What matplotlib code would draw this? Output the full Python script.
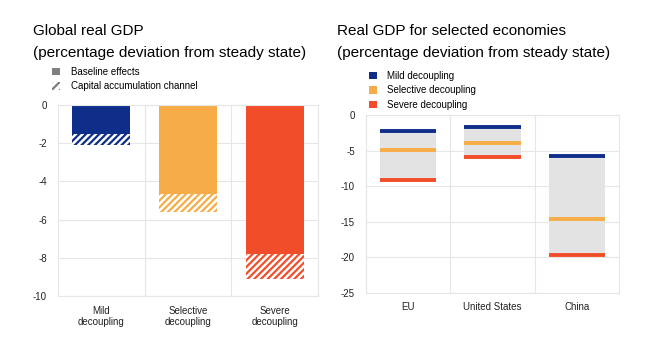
import matplotlib
matplotlib.use("Agg")
import matplotlib.pyplot as plt
from matplotlib.patches import Patch
import numpy as np

plt.rcParams['font.family'] = ['Liberation Sans', 'DejaVu Sans']
plt.rcParams['hatch.linewidth'] = 1.6
plt.rcParams['axes.unicode_minus'] = False

# global real GDP: baseline effect and total incl. capital accumulation
scenarios = ["Mild\ndecoupling", "Selective\ndecoupling", "Severe\ndecoupling"]
baseline = [-1.5, -4.65, -7.8]
total = [-2.1, -5.6, -9.1]

# real GDP by economy under each scenario
economies = ["EU", "United States", "China"]
mild = [-2.2, -1.7, -5.8]
selective = [-4.9, -3.9, -14.6]
severe = [-9.2, -5.9, -19.7]

colors = ["#0e2e8a", "#f7ad47", "#f24d2a"]
grid_col = "#e6e6e6"
W, H = 652, 342

fig = plt.figure(figsize=(W / 100, H / 100), dpi=100)


def style(ax):
    for s in ax.spines.values():
        s.set_color(grid_col)
        s.set_linewidth(0.8)
    ax.tick_params(length=0, labelsize=7, colors="#222222")
    ax.yaxis.grid(True, color=grid_col, lw=0.8)
    ax.set_axisbelow(True)


# left panel
ax1 = fig.add_axes([58 / W, (H - 296) / H, 260 / W, 191 / H])
x = np.arange(len(scenarios))
for i in x:
    ax1.bar(i, total[i], width=0.67, color="white", edgecolor=colors[i],
            hatch="/////", lw=0)
    ax1.bar(i, baseline[i], width=0.67, color=colors[i], lw=0)
ax1.set_xlim(-0.5, 2.5)
ax1.set_ylim(-10, 0)
ax1.set_yticks(np.arange(-10, 1, 2))
ax1.set_xticks(x)
ax1.set_xticklabels(scenarios)
for v in [0.5, 1.5]:
    ax1.axvline(v, color=grid_col, lw=0.8, zorder=0)
style(ax1)
ax1.tick_params(axis="y", pad=8)
ax1.tick_params(axis="x", pad=7)

fig.text(33 / W, 1 - 24 / H, "Global real GDP\n(percentage deviation from steady state)",
         fontsize=11, va="top", ha="left", linespacing=1.7)
fig.legend(handles=[Patch(facecolor="#7f7f7f", lw=0),
                    Patch(facecolor="white", edgecolor="#7f7f7f", hatch="////", lw=0)],
           labels=["Baseline effects", "Capital accumulation channel"],
           loc="upper left", bbox_to_anchor=(52 / W, 1 - 67 / H), frameon=False,
           fontsize=7, handlelength=0.8, handleheight=0.8, handletextpad=1.2,
           labelspacing=0.45, borderaxespad=0, borderpad=0)

# right panel
ax2 = fig.add_axes([366 / W, (H - 292.7) / H, 253 / W, 177.7 / H])
xe = np.arange(len(economies))
ax2.bar(xe, np.array(severe) - np.array(mild), bottom=mild, width=0.67,
        color="#e3e3e3", lw=0, zorder=2)
for vals, c in zip([mild, selective, severe], colors):
    ax2.hlines(vals, xe - 0.335, xe + 0.335, colors=c, lw=2.8, zorder=3)
ax2.set_xlim(-0.5, 2.5)
ax2.set_ylim(-25, 0)
ax2.set_yticks(np.arange(-25, 1, 5))
ax2.set_xticks(xe)
ax2.set_xticklabels(economies)
for v in [0.5, 1.5]:
    ax2.axvline(v, color=grid_col, lw=0.8, zorder=0)
style(ax2)
ax2.tick_params(axis="y", pad=8)
ax2.tick_params(axis="x", pad=7)

fig.text(337 / W, 1 - 24 / H, "Real GDP for selected economies\n(percentage deviation from steady state)",
         fontsize=11, va="top", ha="left", linespacing=1.7)
fig.legend(handles=[Patch(facecolor=c, lw=0) for c in colors],
           labels=["Mild decoupling", "Selective decoupling", "Severe decoupling"],
           loc="upper left", bbox_to_anchor=(369 / W, 1 - 71 / H), frameon=False,
           fontsize=7, handlelength=0.8, handleheight=0.8, handletextpad=1.1,
           labelspacing=0.45, borderaxespad=0, borderpad=0)

fig.savefig("out.png", dpi=100)
